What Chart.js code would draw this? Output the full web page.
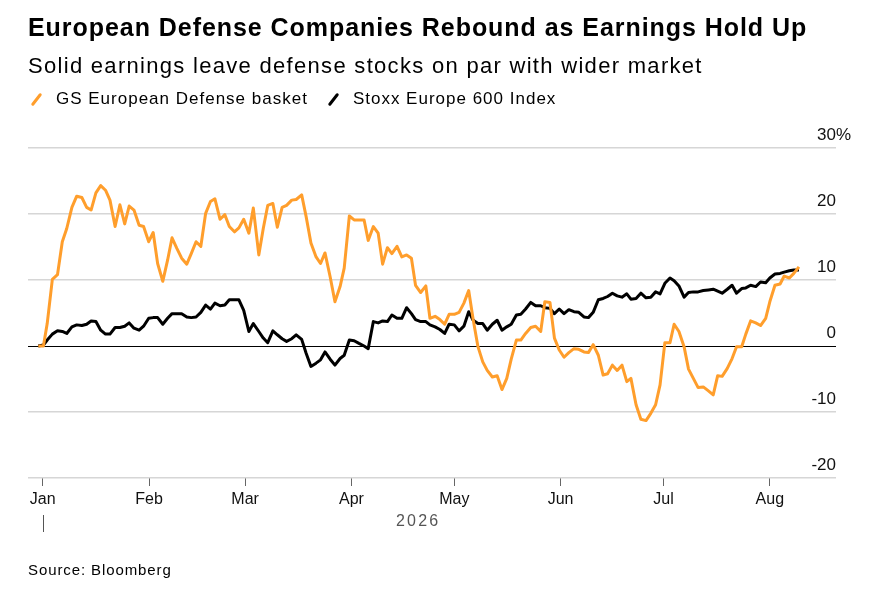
<!DOCTYPE html>
<html>
<head>
<meta charset="utf-8">
<script src="https://cdn.jsdelivr.net/npm/chart.js@4.4.1/dist/chart.umd.min.js"></script>
<style>
  body { margin: 0; background: #fff; font-family: "Liberation Sans", Arial, sans-serif; color: #000; }
  #wrap { position: relative; width: 880px; height: 600px; }
  #chart-box { position: absolute; left: 0; top: 0; width: 880px; height: 600px; }
  .txt { position: absolute; white-space: nowrap; }
  #title { left: 28px; top: 13px; font-size: 25px; font-weight: bold; letter-spacing: 0.95px; }
  #subtitle { left: 28px; top: 53px; font-size: 22px; letter-spacing: 1.3px; }
  #legend { left: 29px; top: 89px; font-size: 17px; letter-spacing: 1px; display: flex; align-items: center; }
  .key { display: inline-block; width: 3px; height: 15px; border-radius: 2px; transform: rotate(38deg); margin: 0 18px 0 6px; }
  #year { left: 396px; top: 512px; font-size: 16px; color: #555; letter-spacing: 2.2px; }
  #source { left: 28px; top: 561px; font-size: 15px; letter-spacing: 0.9px; }
</style>
</head>
<body>
<div id="wrap">
  <div id="chart-box"><canvas id="defChart"></canvas></div>
  <div class="txt" id="title">European Defense Companies Rebound as Earnings Hold Up</div>
  <div class="txt" id="subtitle">Solid earnings leave defense stocks on par with wider market</div>
  <div class="txt" id="legend">
    <span class="key" style="background:#ff9e2c"></span><span>GS European Defense basket</span>
    <span class="key" style="background:#000; margin-left:24px"></span><span>Stoxx Europe 600 Index</span>
  </div>
  <div class="txt" id="year">2026</div>
  <div class="txt" id="source">Source: Bloomberg</div>
</div>
<script>
// trading days, as days since Jan 1 2026
const days = [
  -1.3, 0.2, 1.3, 2.8, 4.3, 5.7, 7.0, 8.5, 9.9, 11.4,
  12.8, 14.1, 15.5, 16.9, 18.3, 19.6, 21.1, 22.5, 23.9, 25.2,
  26.6, 28.1, 29.4, 30.9, 32.2, 33.5, 35.0, 36.4, 37.7, 39.1,
  40.5, 42.0, 43.3, 44.7, 46.1, 47.5, 48.9, 50.2, 51.7, 53.1,
  54.4, 55.9, 57.2, 58.6, 60.1, 61.4, 63.0, 64.3, 65.6, 67.1,
  68.4, 69.8, 71.1, 72.6, 73.9, 75.5,
  76.8, 78.2, 79.7, 81.0, 82.3, 83.8, 85.2, 86.7, 87.9, 89.4,
  90.8, 92.2, 93.7, 94.9, 96.4, 97.8, 99.1, 100.5, 101.8, 103.3,
  104.7, 106.1, 107.5, 108.7, 110.2, 111.7, 112.9, 114.4, 115.8, 117.2,
  118.5, 120.0, 121.4, 122.8, 124.2, 125.5, 126.9, 128.3, 129.6, 131.1,
  132.5, 133.9, 135.3, 136.6, 138.1, 139.4, 140.8, 142.3, 143.7, 145.2,
  146.4, 147.9, 149.2, 150.6,
  152.0, 153.4, 154.9, 156.3, 157.8, 159.1, 160.5, 162.0, 163.4, 164.7,
  166.1, 167.5, 168.9, 170.3, 171.5, 173.0, 174.4, 175.9, 177.3, 178.7,
  180.0, 181.4, 182.9, 184.1, 185.5, 187.0, 188.3, 189.7, 191.1, 192.6,
  194.1, 195.5, 196.8, 198.1, 199.6, 201.0, 202.3, 203.8, 205.0, 206.4,
  207.9, 209.3, 210.8, 212.0, 213.5, 215.0, 216.2, 217.7, 219.0, 220.5
];

// GS European Defense basket, % change
const basket = [
  0, 0, 3.4, 10.1, 10.8, 15.8, 17.8, 21.0, 22.7, 22.5,
  21.0, 20.6, 23.2, 24.3, 23.6, 22.1, 18.1, 21.4, 18.5, 21.2,
  20.6, 18.3, 18.1, 15.8, 17.2, 12.5, 9.8, 13.0, 16.4, 14.8,
  13.3, 12.4, 14.0, 15.8, 15.1, 20.1, 21.9, 22.3, 19.2, 19.9,
  18.1, 17.3, 17.9, 19.2, 17.1, 20.9, 13.8, 17.8, 21.3, 21.6,
  18.0, 21.0, 21.3, 22.1, 22.2, 22.9,
  19.6, 15.6, 13.5, 12.5, 14.1, 10.5, 6.7, 9.0, 11.8, 19.7,
  19.1, 19.1, 19.1, 16.0, 18.1, 17.1, 12.4, 14.9, 14.0, 15.1,
  13.5, 13.8, 13.3, 9.2, 8.1, 9.1, 4.2, 4.5, 4.0, 3.3,
  4.8, 4.8, 5.1, 6.5, 8.4, 4.0, -0.1, -2.4, -3.7, -4.7,
  -4.5, -6.6, -4.9, -2.0, 0.9, 0.9, 1.9, 2.8, 3.0, 2.2,
  6.7, 6.6, 1.2, -0.6,
  -1.7, -1.0, -0.4, -0.5, -0.9, -1.0, 0.2, -1.4, -4.4, -4.2,
  -2.9, -3.7, -2.9, -5.4, -4.9, -8.9, -11.1, -11.3, -10.2, -8.9,
  -5.9, 0.5, 0.5, 3.3, 2.2, -0.1, -3.5, -4.9, -6.3, -6.2,
  -6.8, -7.4, -4.5, -4.6, -3.4, -1.9, -0.1, -0.1, 1.8, 3.8,
  3.5, 3.1, 4.2, 6.7, 9.2, 9.4, 10.6, 10.3, 11.0, 12.0
];

// Stoxx Europe 600 Index, % change
const stoxx = [
  0, 0.15, 0.9, 1.8, 2.3, 2.2, 1.9, 2.9, 3.2, 3.1,
  3.3, 3.8, 3.7, 2.4, 1.8, 1.8, 2.8, 2.8, 3.0, 3.5,
  2.7, 2.4, 3.0, 4.2, 4.3, 4.3, 3.3, 4.2, 4.9, 4.9,
  4.9, 4.4, 4.3, 4.4, 5.1, 6.2, 5.6, 6.5, 6.1, 6.2,
  7.0, 7.0, 7.0, 5.4, 2.2, 3.4, 2.2, 1.2, 0.5, 2.3,
  1.7, 1.1, 0.7, 1.1, 1.7, 1.0,
  -1.1, -3.1, -2.6, -2.1, -0.9, -2.0, -2.9, -1.9, -1.4, 0.9,
  0.8, 0.4, 0.0, -0.4, 3.7, 3.5, 3.8, 3.7, 4.7, 4.2,
  4.2, 5.8, 4.9, 4.0, 3.7, 3.7, 3.2, 2.9, 2.5, 1.9,
  3.3, 3.2, 2.3, 3.0, 5.2, 3.9, 3.4, 3.4, 2.4, 3.3,
  3.9, 2.4, 2.9, 3.3, 4.7, 4.8, 5.6, 6.6, 6.1, 6.1,
  5.8, 5.7, 4.9, 5.6,
  4.9, 5.5, 5.2, 5.1, 4.4, 4.3, 5.1, 7.0, 7.2, 7.5,
  8.0, 7.6, 7.4, 7.9, 7.1, 7.2, 8.0, 7.3, 7.4, 8.2,
  7.9, 9.5, 10.3, 9.9, 9.1, 7.4, 8.1, 8.2, 8.2, 8.4,
  8.5, 8.6, 8.3, 8.0, 8.6, 9.2, 8.0, 8.7, 8.8, 9.2,
  9.0, 9.7, 9.6, 10.3, 10.9, 11.0, 11.2, 11.4, 11.5, 11.5
];

const monthStarts = [0, 31, 59, 90, 120, 151, 181, 212];
const monthLabels = ['Jan', 'Feb', 'Mar', 'Apr', 'May', 'Jun', 'Jul', 'Aug'];
const yTicks = [-20, -10, 0, 10, 20, 30];

const FONT = '"Liberation Sans", Arial, sans-serif';

// y labels sit above their gridline, right aligned; "%" hangs off the top one
const yLabels = {
  id: 'yLabels',
  afterDraw(chart) {
    const { ctx, chartArea, scales } = chart;
    ctx.save();
    ctx.font = '17px ' + FONT;
    ctx.fillStyle = '#111';
    ctx.textAlign = 'right';
    ctx.textBaseline = 'alphabetic';
    yTicks.forEach(v => {
      const y = scales.y.getPixelForValue(v) - 8;
      ctx.fillText(String(v), chartArea.right, y);
      if (v === yTicks[yTicks.length - 1]) {
        ctx.textAlign = 'left';
        ctx.fillText('%', chartArea.right, y);
        ctx.textAlign = 'right';
      }
    });
    // small year marker under the first month
    const x0 = Math.round(scales.x.getPixelForValue(monthStarts[0])) + 0.5;
    ctx.strokeStyle = '#555';
    ctx.lineWidth = 1;
    ctx.beginPath();
    ctx.moveTo(x0, chartArea.bottom + 37);
    ctx.lineTo(x0, chartArea.bottom + 54);
    ctx.stroke();
    ctx.restore();
  }
};

const ctx = document.getElementById('defChart').getContext('2d');
new Chart(ctx, {
  type: 'line',
  data: {
    datasets: [
      {
        label: 'GS European Defense basket',
        data: days.map((d, i) => ({ x: d, y: basket[i] })),
        borderColor: '#ff9e2c',
        borderWidth: 3,
        pointRadius: 0,
        tension: 0,
        borderJoinStyle: 'round'
      },
      {
        label: 'Stoxx Europe 600 Index',
        data: days.map((d, i) => ({ x: d, y: stoxx[i] })),
        borderColor: '#000',
        borderWidth: 3,
        pointRadius: 0,
        tension: 0,
        borderJoinStyle: 'round'
      }
    ]
  },
  options: {
    responsive: true,
    maintainAspectRatio: false,
    animation: false,
    layout: { padding: { top: 148, left: 28, right: 44, bottom: 82 } },
    plugins: {
      legend: { display: false },
      tooltip: { enabled: false }
    },
    scales: {
      x: {
        type: 'linear',
        min: -4.3,
        max: 231.3,
        afterBuildTicks: scale => {
          scale.ticks = monthStarts.map(v => ({ value: v }));
        },
        afterFit: scale => { scale.height = 40; },
        border: { display: false },
        grid: {
          drawOnChartArea: false,
          drawTicks: true,
          tickLength: 8,
          color: '#666',
          lineWidth: 1
        },
        ticks: {
          autoSkip: false,
          maxRotation: 0,
          padding: 4,
          color: '#111',
          font: { family: FONT, size: 16 },
          callback: v => monthLabels[monthStarts.indexOf(v)]
        }
      },
      y: {
        position: 'right',
        min: -20,
        max: 30,
        afterBuildTicks: scale => {
          scale.ticks = yTicks.map(v => ({ value: v }));
        },
        afterFit: scale => { scale.width = 0; },
        border: { display: false },
        grid: {
          drawTicks: false,
          color: c => c.tick.value === 0 ? '#000' : '#d6d6d6',
          lineWidth: c => c.tick.value === 0 ? 1 : 1.5
        },
        ticks: { display: false }
      }
    }
  },
  plugins: [yLabels]
});
</script>
</body>
</html>
